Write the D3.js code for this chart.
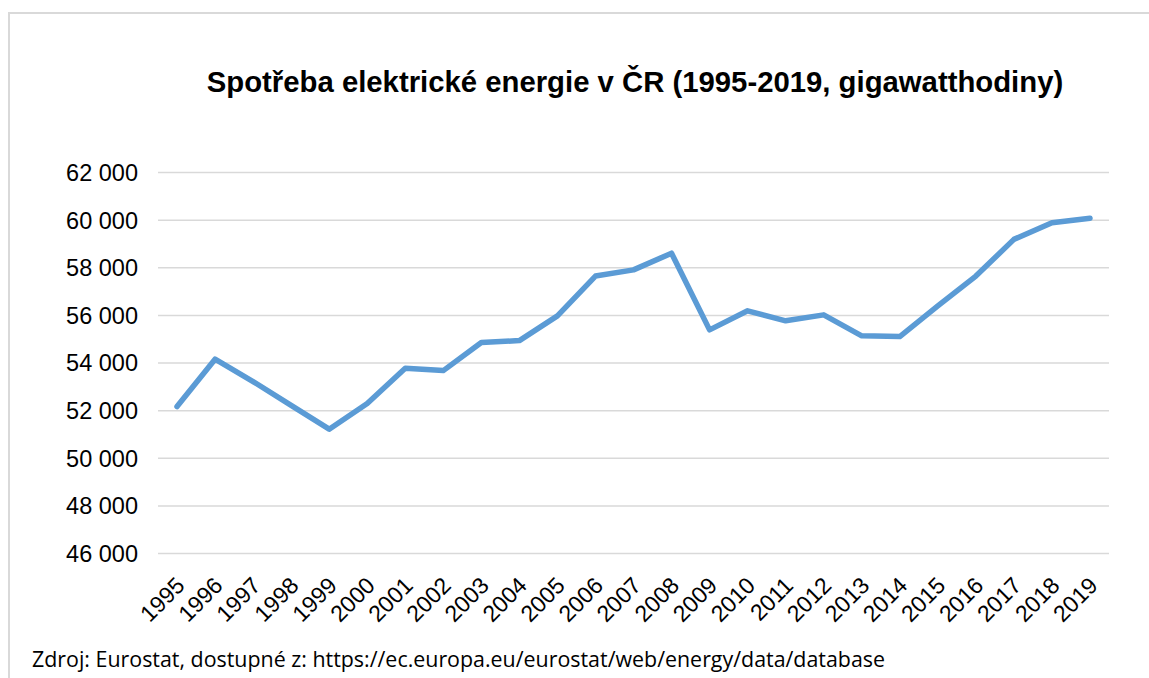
<!DOCTYPE html>
<html>
<head>
<meta charset="utf-8">
<script src="https://cdn.jsdelivr.net/npm/d3@7"></script>
<style>
  body { margin: 0; background: #fff; }
</style>
</head>
<body>
<div id="chart"></div>
<script>
const years = ["1995", "1996", "1997", "1998", "1999", "2000", "2001", "2002", "2003",
  "2004", "2005", "2006", "2007", "2008", "2009", "2010", "2011", "2012", "2013",
  "2014", "2015", "2016", "2017", "2018", "2019"]
const consumption = [52150, 54140, 53200, 52200, 51200, 52280, 53760, 53660, 54840,
  54920, 55960, 57630, 57890, 58590, 55370, 56170, 55750, 56000, 55120,
  55090, 56380, 57630, 59170, 59870, 60060]
const yTicks = [46000, 48000, 50000, 52000, 54000, 56000, 58000, 60000, 62000]
const title = "Spotřeba elektrické energie v ČR (1995-2019, gigawatthodiny)"
const source = "Zdroj: Eurostat, dostupné z: https://ec.europa.eu/eurostat/web/energy/data/database"

const svgWidth = 1149
const svgHeight = 678

const margin = { top: 172, right: 40, bottom: 125, left: 158 }
const chartWidth = 1109 - margin.left
const chartHeight = 553 - margin.top

const svg = d3.select("#chart").append("svg")
    .attr("width", svgWidth)
    .attr("height", svgHeight)

// chart frame, only top and left edges show
svg.append("path")
    .attr("d", `M9,${svgHeight} V13 H${svgWidth}`)
    .attr("fill", "none")
    .attr("stroke", "#d9d9d9")
    .attr("stroke-width", 2)

const chartG = svg.append("g")
    .attr("transform", `translate(${margin.left}, ${margin.top})`)

const x = d3.scaleBand()
    .domain(years)
    .range([0, chartWidth])

const y = d3.scaleLinear()
    .domain([46000, 62000])
    .range([chartHeight, 0])

const fmt = d => d3.format(",")(d).replace(",", " ")

// gridlines
const yAxis = d3.axisLeft(y)
    .tickValues(yTicks)
    .tickSize(-chartWidth)
    .tickPadding(20)
    .tickFormat(fmt)

const yAxisG = chartG.append("g").call(yAxis)
yAxisG.select(".domain").remove()
yAxisG.selectAll("line")
    .attr("stroke", "#d9d9d9")
    .attr("stroke-width", 1.5)
yAxisG.selectAll("text")
    .attr("font-family", "Liberation Sans, Arial, sans-serif")
    .attr("font-size", 23.5)
    .attr("fill", "#000")
    .attr("dy", "0.36em")

const xAxis = d3.axisBottom(x).tickSize(0).tickPadding(0)
const xAxisG = chartG.append("g")
    .attr("transform", `translate(0, ${chartHeight})`)
    .call(xAxis)
xAxisG.select(".domain").remove()
xAxisG.selectAll("text")
    .attr("font-family", "Liberation Sans, Arial, sans-serif")
    .attr("font-size", 23)
    .attr("fill", "#000")
    .attr("text-anchor", "end")
    .attr("dy", null)
    .attr("y", 0)
    .attr("transform", "translate(9, 34) rotate(-45)")

const line = d3.line()
    .x((d, i) => x(years[i]) + x.bandwidth() / 2)
    .y(d => y(d))

chartG.append("path")
    .datum(consumption)
    .attr("d", line)
    .attr("fill", "none")
    .attr("stroke", "#5b9bd5")
    .attr("stroke-width", 5.5)
    .attr("stroke-linejoin", "round")
    .attr("stroke-linecap", "round")

svg.append("text")
    .attr("x", 635)
    .attr("y", 92)
    .attr("text-anchor", "middle")
    .attr("font-family", "Liberation Sans, Arial, sans-serif")
    .attr("font-weight", "bold")
    .attr("font-size", 29.3)
    .attr("fill", "#000")
    .text(title)

svg.append("text")
    .attr("x", 32)
    .attr("y", 667)
    .attr("font-family", "Open Sans, sans-serif")
    .attr("font-size", 21.4)
    .attr("fill", "#000")
    .text(source)
</script>
</body>
</html>
